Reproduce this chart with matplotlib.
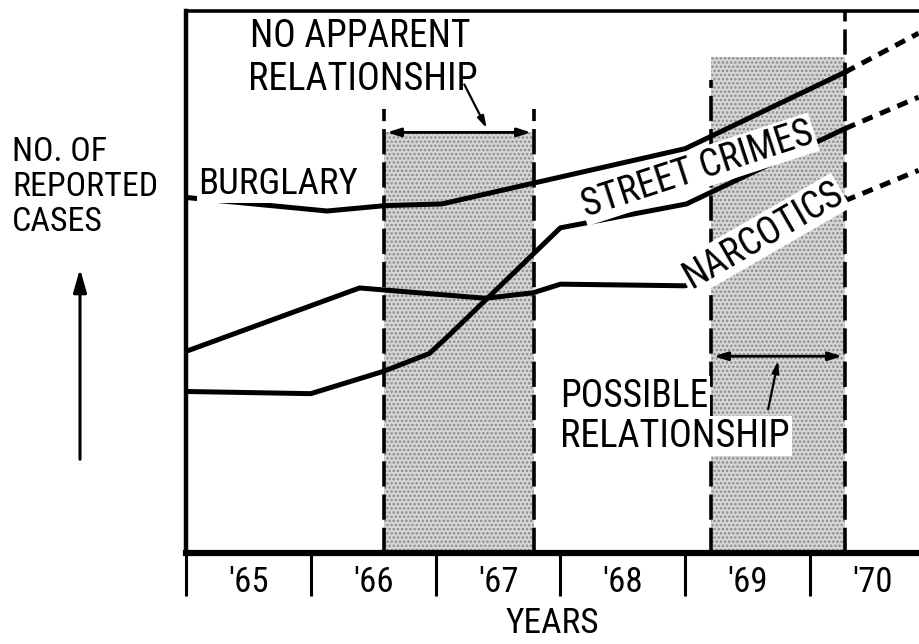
import matplotlib
matplotlib.use("Agg")
import matplotlib.pyplot as plt
from matplotlib import font_manager

# ---------------- data ----------------
years = [1965, 1966, 1967, 1968, 1969, 1970]
year_labels = ["'65", "'66", "'67", "'68", "'69", "'70"]

burglary_x = [1965.0, 1966.13, 1966.6, 1967.05, 1969.0, 1970.28]
burglary_y = [65.6, 63.1, 64.1, 64.4, 74.6, 88.7]
burglary_proj_x = [1970.28, 1970.87]
burglary_proj_y = [88.7, 95.9]

street_x = [1965.0, 1966.0, 1966.58, 1966.95, 1967.1, 1968.0, 1969.01, 1970.28]
street_y = [29.8, 29.4, 33.5, 36.8, 40.0, 60.0, 64.4, 78.3]
street_proj_x = [1970.28, 1970.87]
street_proj_y = [78.3, 84.1]

narc_x = [1965.0, 1966.39, 1967.4, 1967.78, 1968.0, 1969.0, 1970.28]
narc_y = [37.2, 48.9, 47.0, 48.0, 49.6, 49.3, 65.0]
narc_proj_x = [1970.28, 1970.87]
narc_proj_y = [65.0, 70.6]

no_rel_span = (1966.587, 1967.788)
possible_span = (1969.207, 1970.28)

# ---------------- fonts ----------------
names = {f.name for f in font_manager.fontManager.ttflist}
fam = [f for f in ["Liberation Sans Narrow", "DejaVu Sans Condensed", "Roboto Condensed", "Liberation Sans"] if f in names]
plt.rcParams["font.family"] = fam + ["DejaVu Sans"]
plt.rcParams["hatch.linewidth"] = 1.2
plt.rcParams["hatch.color"] = "#8a8a8a"

W, H = 919, 644
fig = plt.figure(figsize=(W / 100, H / 100), dpi=100)
ax = fig.add_axes([186 / W, 91 / H, (919 - 186) / W, (553 - 11) / H])
ax.set_xlim(1965, 1965 + 733 / 124.8)
ax.set_ylim(0, 100)

FS = 27
lw_series = 3.6

# shaded regions
ax.fill_between(no_rel_span, 0, 77.6, facecolor="#d6d6d6", hatch="....", edgecolor="#8a8a8a", linewidth=0, zorder=1)
ax.fill_between(possible_span, 0, 91.5, facecolor="#d6d6d6", hatch="....", edgecolor="#8a8a8a", linewidth=0, zorder=1)

dash = (0, (7, 2.2))
ax.plot([no_rel_span[0]] * 2, [0, 82.0], color="black", lw=2.6, ls=dash, zorder=2)
ax.plot([no_rel_span[1]] * 2, [0, 82.0], color="black", lw=2.6, ls=dash, zorder=2)
ax.plot([possible_span[0]] * 2, [0, 87.2], color="black", lw=2.6, ls=dash, zorder=2)
ax.plot([possible_span[1]] * 2, [0, 100], color="black", lw=2.6, ls=dash, zorder=2)

# double arrows
ax.annotate("", xy=(no_rel_span[0], 77.6), xytext=(no_rel_span[1], 77.6),
            arrowprops=dict(arrowstyle="<|-|>,head_length=0.8,head_width=0.25", color="black", lw=2), zorder=4)
ax.annotate("", xy=(possible_span[0], 36.3), xytext=(possible_span[1], 36.3),
            arrowprops=dict(arrowstyle="<|-|>,head_length=0.8,head_width=0.25", color="black", lw=2), zorder=4)

# series
for xs, ys, pxs, pys in [(burglary_x, burglary_y, burglary_proj_x, burglary_proj_y),
                         (street_x, street_y, street_proj_x, street_proj_y),
                         (narc_x, narc_y, narc_proj_x, narc_proj_y)]:
    ax.plot(xs, ys, color="black", lw=lw_series, solid_joinstyle="round", zorder=3)
    ax.plot(pxs, pys, color="black", lw=lw_series, ls=(0, (2.2, 1.6)), zorder=3)

white = dict(facecolor="white", edgecolor="none", pad=1.0)

ax.text(1965.096, 66.3, "BURGLARY", fontsize=26.5, ha="left", va="baseline", bbox=white, zorder=5)
ax.text(1969.1, 70.8, "STREET CRIMES", fontsize=FS, ha="center", va="center", rotation=18,
        rotation_mode="anchor", bbox=white, zorder=5)
ax.text(1969.62, 58.6, "NARCOTICS", fontsize=FS, ha="center", va="center", rotation=30,
        rotation_mode="anchor", bbox=white, zorder=5)

ax.text(1965.513, 93.3, "NO APPARENT", fontsize=FS, ha="left", va="baseline", zorder=5)
ax.text(1965.5, 85.4, "RELATIONSHIP", fontsize=27.5, ha="left", va="baseline", zorder=5)
ax.annotate("", xy=(1967.42, 77.9), xytext=(1967.22, 86.9),
            arrowprops=dict(arrowstyle="-|>,head_length=0.7,head_width=0.2", color="black", lw=1.6), zorder=5)

ax.text(1968.0, 27.0, "POSSIBLE", fontsize=FS, ha="left", va="baseline", bbox=white, zorder=5)
ax.text(1968.0, 19.6, "RELATIONSHIP", fontsize=27.5, ha="left", va="baseline", bbox=white, zorder=5)
ax.annotate("", xy=(1969.75, 36.0), xytext=(1969.66, 26.0),
            arrowprops=dict(arrowstyle="-|>,head_length=0.7,head_width=0.2", color="black", lw=1.6), zorder=5)

# axes styling
ax.spines["right"].set_visible(False)
ax.spines["left"].set_linewidth(3.2)
ax.spines["bottom"].set_linewidth(4.5)
ax.spines["top"].set_linewidth(2.6)

ax.set_yticks([])
ax.set_xticks(years)
ax.set_xticklabels([])
ax.tick_params(axis="x", which="major", direction="out", length=31, width=2.2, color="black")
ax.set_xticks([y + 0.5 for y in years], minor=True)
ax.set_xticklabels(year_labels, minor=True, fontsize=25)
ax.tick_params(axis="x", which="minor", length=0, pad=9)
ax.set_xlabel("YEARS", fontsize=25.5)
ax.xaxis.set_label_coords(0.5, -(607 - 553) / 542)

# y-axis label and arrow
fig.text(12 / W, 1 - 136 / H, "NO. OF\nREPORTED\nCASES", fontsize=24.5, ha="left", va="top", linespacing=1.13)
fig.patches.append(matplotlib.patches.FancyArrowPatch(
    (80, 644 - 462), (80, 644 - 266), transform=None,
    arrowstyle="-|>,head_length=14,head_width=4", color="black", lw=2.2))

fig.savefig("out.png", dpi=100)
